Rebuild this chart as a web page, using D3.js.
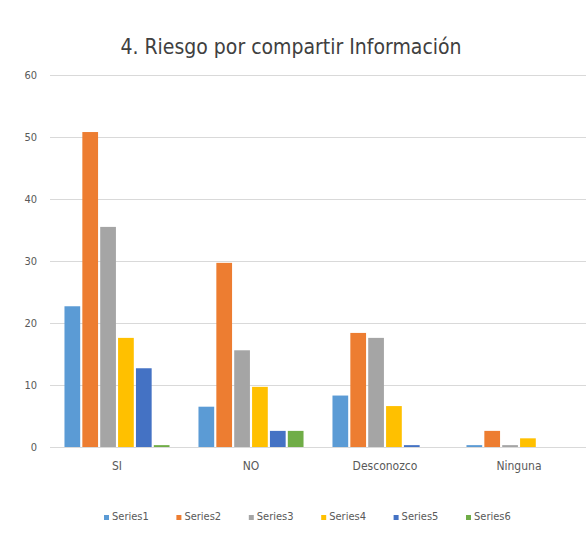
<!DOCTYPE html>
<html><head><meta charset="utf-8">
<script src="https://cdn.jsdelivr.net/npm/d3@7"></script>
<style>body{margin:0;background:#fff}svg{display:block}</style>
</head><body>
<svg id="c" width="587" height="535"></svg>
<script>
const categories = ["SI", "NO", "Desconozco", "Ninguna"];
const seriesNames = ["Series1", "Series2", "Series3", "Series4", "Series5", "Series6"];
const series1 = [22.7, 6.5, 8.3, 0.3];
const series2 = [50.8, 29.7, 18.4, 2.6];
const series3 = [35.5, 15.6, 17.6, 0.3];
const series4 = [17.6, 9.7, 6.6, 1.4];
const series5 = [12.7, 2.6, 0.3, 0];
const series6 = [0.3, 2.6, 0, 0];
const yTicks = [0, 10, 20, 30, 40, 50, 60];
const colors = ["#5B9BD5", "#ED7D31", "#A5A5A5", "#FFC000", "#4472C4", "#70AD47"];
const title = "4. Riesgo por compartir Información";

const allSeries = [series1, series2, series3, series4, series5, series6];
const svg = d3.select("#c");
const font = "'Liberation Sans Narrow', 'DejaVu Sans Condensed', 'Liberation Sans', sans-serif";

const y = d3.scaleLinear().domain([0, 60]).range([447, 75]);
const x0 = d3.scaleBand().domain(categories).range([50, 586]).padding(0);
const bw = x0.bandwidth();
const g = bw * 0.108;
const x1 = d3.scaleBand().domain(seriesNames).range([g, bw - g]).paddingInner(0.12);

// title
svg.append("text").attr("x", 291).attr("y", 54).attr("text-anchor", "middle")
  .attr("font-family", font).attr("font-size", 21).attr("fill", "#404040").text(title);

// gridlines
svg.append("g").selectAll("line").data(yTicks).join("line")
  .attr("x1", 50).attr("x2", 586)
  .attr("y1", d => Math.round(y(d)) + 0.5).attr("y2", d => Math.round(y(d)) + 0.5)
  .attr("stroke", "#d9d9d9").attr("stroke-width", 1);

// y labels
svg.append("g").selectAll("text").data(yTicks).join("text")
  .attr("x", 37).attr("y", d => y(d) + 4).attr("text-anchor", "end")
  .attr("font-family", font).attr("font-size", 11).attr("fill", "#595959").text(d => d);

// bars
const groups = svg.append("g").selectAll("g").data(categories).join("g")
  .attr("transform", c => `translate(${x0(c)},0)`);
groups.selectAll("rect").data((c, ci) => seriesNames.map((s, si) => ({s, si, v: allSeries[si][ci]})))
  .join("rect")
  .attr("x", d => x1(d.s)).attr("width", x1.bandwidth())
  .attr("y", d => y(d.v)).attr("height", d => y(0) - y(d.v))
  .attr("fill", d => colors[d.si]);

// category labels
svg.append("g").selectAll("text").data(categories).join("text")
  .attr("x", c => x0(c) + bw / 2).attr("y", 470).attr("text-anchor", "middle")
  .attr("font-family", font).attr("font-size", 12).attr("fill", "#595959").text(c => c);

// legend
const lx = d3.scalePoint().domain(seriesNames).range([104, 466]);
const leg = svg.append("g").selectAll("g").data(seriesNames).join("g")
  .attr("transform", s => `translate(${lx(s)},520)`);
leg.append("rect").attr("x", 0).attr("y", -5).attr("width", 5).attr("height", 5)
  .attr("fill", (s, i) => colors[i]);
leg.append("text").attr("x", 8).attr("y", 0).attr("font-family", font).attr("font-size", 11)
  .attr("fill", "#595959").text(s => s);
</script>
</body></html>
